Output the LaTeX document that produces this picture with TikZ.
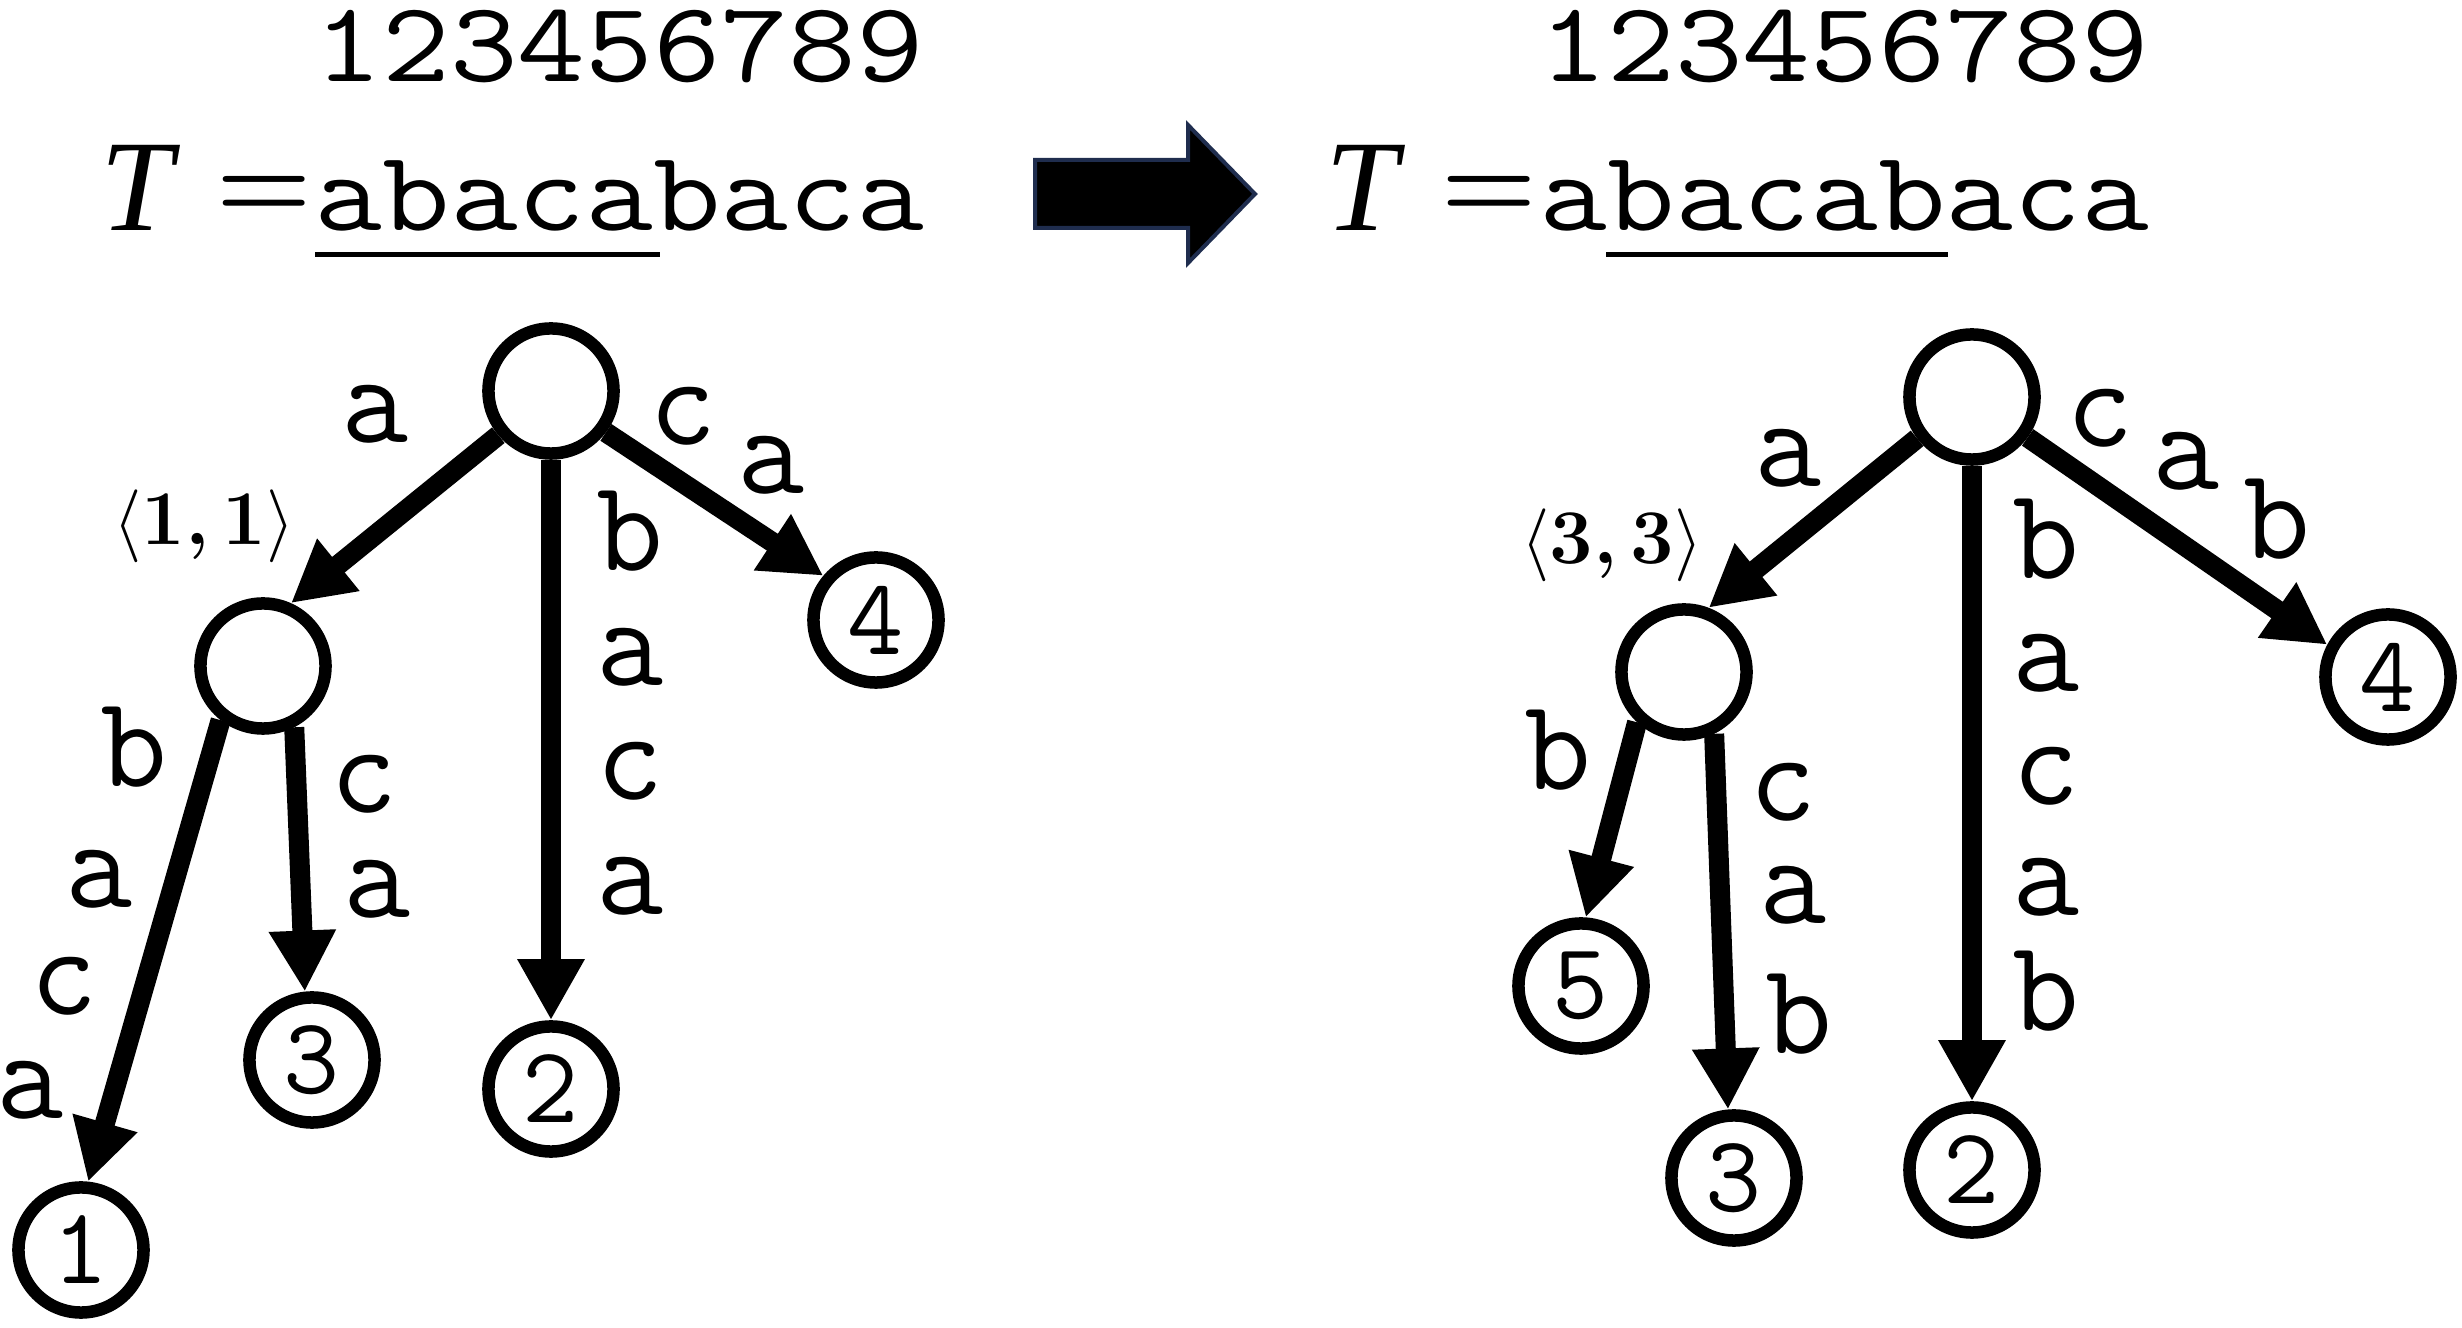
\documentclass[tikz,border=0pt]{standalone}
\usepackage{fontspec}
\usepackage{tikz}
\usetikzlibrary{arrows.meta}
\newfontfamily\widett{lmmono12-regular.otf}[FakeStretch=1.15]
\newfontfamily\timesfont{Liberation Serif}
\definecolor{arrowrim}{RGB}{31,45,78}

\begin{document}
\begin{tikzpicture}[
    x=0.01cm, y=-0.01cm,
    font=\ttfamily\fontsize{37}{40}\selectfont,
    vtx/.style={circle, draw, line width=0.125cm, minimum size=1.25cm,
        inner sep=0pt, font=\ttfamily\fontsize{31}{31}\selectfont},
    edge/.style={-{Triangle[length=0.61cm, width=0.63cm]}, line width=0.2cm},
    lbl/.style={anchor=base, inner sep=0pt},
    head/.style={anchor=base west, inner sep=0pt, font=\widett\fontsize{32.5}{36}\selectfont},
    eqsign/.style={anchor=base, inner sep=0pt, font=\rmfamily\bfseries\fontsize{31}{34}\selectfont},
    pair/.style={inner sep=0pt, font=\rmfamily\fontsize{22}{24}\selectfont},
    uline/.style={line width=0.05cm},
]
\useasboundingbox (0,0) rectangle (2462,1328);

%% Texts
\node[head] (numL) at (314,82)  {123456789};
\node[lbl] (tL) at (137,231) {\timesfont\itshape\fontsize{37}{40}\selectfont T};
\node[eqsign] (eqL) at (264,219) {=};
\node[head] (txtL) at (314,231) {abacabaca};
\draw[uline] (315,255) -- (660,255);

\node[head] (numR) at (1539,82) {123456789};
\node[lbl] (tR) at (1362,231) {\timesfont\itshape\fontsize{37}{40}\selectfont T};
\node[eqsign] (eqR) at (1489,219) {=};
\node[head] (txtR) at (1539,231) {abacabaca};
\draw[uline] (1606,255) -- (1948,255);

%% Big arrow
\filldraw[fill=black, draw=arrowrim, line width=0.04cm]
    (1035,160) -- (1188,160) -- (1188,125) -- (1255,194)
    -- (1188,263) -- (1188,228) -- (1035,228) -- cycle;

%% Left tree
\node[vtx] (rootL) at (551,391)  {};
\node[vtx] (uL)    at (263,666)  {};
\node[vtx] (l4L)   at (876,620)  {4};
\node[vtx] (l3L)   at (312,1060) {3};
\node[vtx] (l2L)   at (551,1089) {2};
\node[vtx] (l1L)   at (81,1250)  {1};
\node[pair] (pL) at (204,526) {$\langle$\textbf{1,\,1}$\rangle$};

\draw[edge] (rootL.220) -- (uL.66);
\draw[edge] (rootL.south) -- (l2L.north);
\draw[edge] (rootL.323) -- (l4L.140);
\draw[edge] (uL.232) -- (l1L.84);
\draw[edge] (uL.297) -- (l3L.96);

\node[lbl] at (375,443) {a};
\node[lbl] at (630,571) {b};
\node[lbl] at (630,686) {a};
\node[lbl] at (630,800) {c};
\node[lbl] at (630,915) {a};
\node[lbl] at (683,445) {c};
\node[lbl] at (771,494) {a};
\node[lbl] at (134,787) {b};
\node[lbl] at (99,908)  {a};
\node[lbl] at (64,1015) {c};
\node[lbl] at (30,1119) {a};
\node[lbl] at (364,813) {c};
\node[lbl] at (377,918) {a};

%% Right tree
\node[vtx] (rootR) at (1972,397)  {};
\node[vtx] (vR)    at (1684,672)  {};
\node[vtx] (l4R)   at (2388,677)  {4};
\node[vtx] (l5R)   at (1581,986)  {5};
\node[vtx] (l3R)   at (1734,1178) {3};
\node[vtx] (l2R)   at (1972,1170) {2};
\node[pair] (pR) at (1612,545) {$\langle$\textbf{3,\,3}$\rangle$};

\draw[edge] (rootR.217) -- (vR.69);
\draw[edge] (rootR.south) -- (l2R.north);
\draw[edge] (rootR.324) -- (l4R.152);
\draw[edge] (vR.227) -- (l5R.86);
\draw[edge] (vR.296) -- (l3R.95);

\node[lbl] at (1788,487)  {a};
\node[lbl] at (2046,579)  {b};
\node[lbl] at (2046,692)  {a};
\node[lbl] at (2046,805)  {c};
\node[lbl] at (2046,916)  {a};
\node[lbl] at (2046,1031) {b};
\node[lbl] at (2100,447)  {c};
\node[lbl] at (2186,490)  {a};
\node[lbl] at (2277,559)  {b};
\node[lbl] at (1558,790)  {b};
\node[lbl] at (1783,821)  {c};
\node[lbl] at (1793,924)  {a};
\node[lbl] at (1799,1054) {b};
\end{tikzpicture}
\end{document}
